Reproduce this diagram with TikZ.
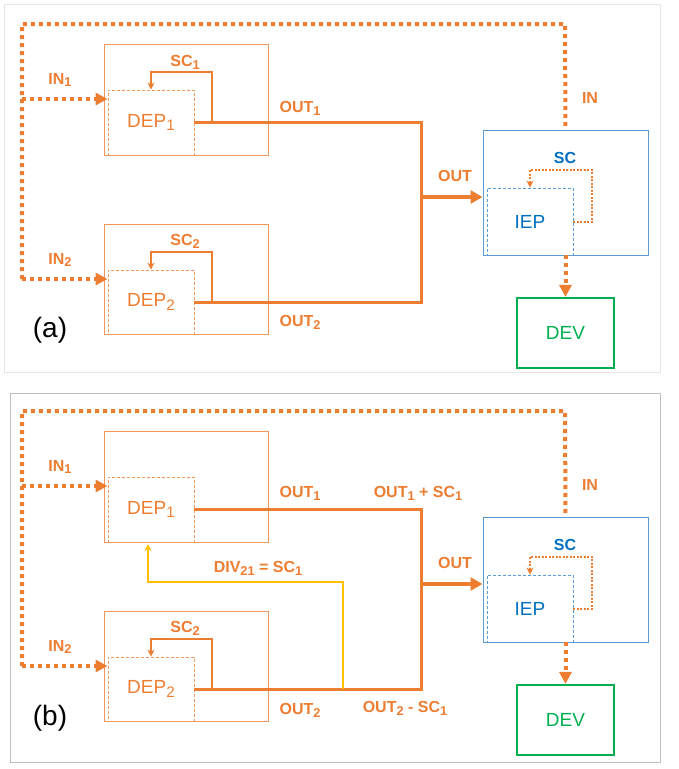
\documentclass[tikz,border=0pt]{standalone}
\usepackage{fontspec}
\setmainfont{Liberation Sans}
\usetikzlibrary{arrows.meta}
\definecolor{org}{HTML}{ED7D31}
\definecolor{bbox}{HTML}{5B9BD5}
\definecolor{btxt}{HTML}{0070C0}
\definecolor{grn}{HTML}{00B050}
\definecolor{yel}{HTML}{FFC000}
\newcommand{\sbx}[1]{\raisebox{-0.35ex}{\scalebox{0.8}{#1}}}
\begin{document}
\begin{tikzpicture}[x=1pt,y=-1pt,
 outer/.style={draw=org!80,line width=1pt,inner sep=0},
 inner/.style={draw=org!80,dash pattern=on 3pt off 2pt,line width=0.9pt,inner sep=0},
 lbl/.style={text=org,font=\bfseries\fontsize{16}{17}\selectfont},
 big/.style={font=\fontsize{19}{21}\selectfont},
 sig/.style={draw=org,line width=4pt,dash pattern=on 4pt off 4pt},
 sarr/.style={-{Triangle[length=12pt,width=12pt]}},
 wire/.style={draw=org,line width=3pt},
 loop/.style={draw=org,line width=2pt,-{Stealth[length=7pt,width=7pt]}}]
\useasboundingbox (0,0) rectangle (678,769);
\draw[black!10] (4,4) rectangle (660,372);
\draw[black!25,line width=0.8pt] (10,393) rectangle (660,762);
\foreach \o/\p in {0/a,387/b}{
\begin{scope}[yshift=-\o pt]
 \coordinate (tl\p) at (22,24); \coordinate (tr\p) at (565,24);
 \node[outer,minimum width=164,minimum height=111] (o1\p) at (186,99.5) {};
 \node[outer,minimum width=164,minimum height=110] (o2\p) at (186,279) {};
 \node[inner,minimum width=86,minimum height=65,text=org,big] (d1\p) at (151,122.5) {DEP\sbx{1}};
 \node[inner,minimum width=86,minimum height=64,text=org,big] (d2\p) at (151,302) {DEP\sbx{2}};
 \node[draw=bbox,line width=1pt,minimum width=165,minimum height=125,inner sep=0] (ib\p) at (565.5,192.5) {};
 \node[draw=bbox,dash pattern=on 3pt off 2pt,line width=0.9pt,minimum width=86,minimum height=67,inner sep=0,text=btxt,big] (iep\p) at (530,221.5) {IEP};
 \node[draw=grn,line width=2.2pt,minimum width=97,minimum height=70,inner sep=0,text=grn,big] (dev\p) at (565.5,333) {DEV};
 \coordinate (l1\p) at (22,99); \coordinate (l2\p) at (22,279);
 \coordinate (j1\p) at (421,122); \coordinate (j2\p) at (421,302); \coordinate (jo\p) at (421,197);
 \draw[sig] (l2\p) -- (tl\p) -- (tr\p) -- (ib\p.north);
 \draw[sig,sarr] (l1\p) -- (d1\p.west|-l1\p);
 \draw[sig,sarr] (l2\p) -- (d2\p.west|-l2\p);
 \draw[sig,sarr] (iep\p.south-|dev\p) -- (dev\p.north);
 \draw[draw=org,line width=4pt,-{Triangle[length=12pt,width=13pt]}] (jo\p) -- (jo\p-|ib\p.west);
 \draw[wire] (d2\p.east|-j2\p) -- (j2\p) -- (j1\p);
 \draw[loop] (d2\p.east|-j2\p) -- (212,302) -- (212,252) -- (151,252) -- (d2\p.north);
 \draw[org,line width=2pt,dash pattern=on 2pt off 1.5pt,-{Stealth[length=7pt,width=7pt]}] (iep\p.east|-0,222) -- (592,222) -- (592,170) -- (530,170) -- (iep\p.north);
 \node[lbl] (inl1\p) at (60,80) {IN\sbx{1}};
 \node[lbl] (inl2\p) at (60,260) {IN\sbx{2}};
 \node[lbl] (inl\p) at (590,98) {IN};
 \node[lbl] (sc2\p) at (185,241) {SC\sbx{2}};
 \node[lbl] (outl\p) at (455,176) {OUT};
 \node[lbl,text=btxt] (scl\p) at (565,158) {SC};
\end{scope}}
% panel a specifics
\draw[wire] (d1a.east|-j1a) -- (j1a) -- (j2a);
\draw[loop] (d1a.east|-j1a) -- (212,122) -- (212,72) -- (151,72) -- (d1a.north);
\node[lbl] (sc1a) at (185,62) {SC\sbx{1}};
\node[lbl] (ou1a) at (300,108) {OUT\sbx{1}};
\node[lbl] (ou2a) at (300,322) {OUT\sbx{2}};
\node[font=\fontsize{28}{30}\selectfont] (pa) at (50,330) {(a)};
% panel b specifics
\coordinate (j1b) at (421,509); \coordinate (dv) at (343,689);
\draw[wire] (d1b.east|-j1b) -- (j1b) -- (421,689);
\draw[yel,line width=2pt,-{Stealth[length=7pt,width=7pt]}] (dv) -- (343,582) -- (148,582) -- (148,544);
\node[lbl] (ou1b) at (300,493) {OUT\sbx{1}};
\node[lbl] (ous1) at (418,493) {OUT\sbx{1} + SC\sbx{1}};
\node[lbl] (ou2b) at (300,710) {OUT\sbx{2}};
\node[lbl] (ous2) at (405,708) {OUT\sbx{2} - SC\sbx{1}};
\node[lbl] (div) at (258,568) {DIV\sbx{21} = SC\sbx{1}};
\node[font=\fontsize{28}{30}\selectfont] (pb) at (50,718) {(b)};
\end{tikzpicture}
\end{document}
